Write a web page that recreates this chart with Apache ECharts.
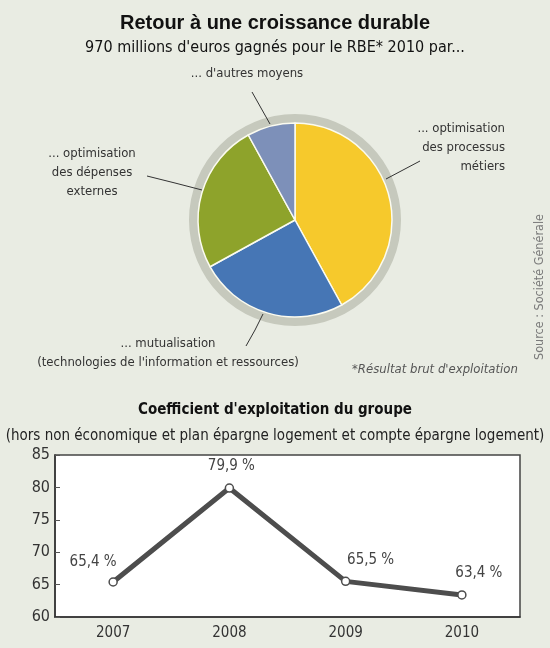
<!DOCTYPE html>
<html>
<head>
<meta charset="utf-8">
<script src="https://cdn.jsdelivr.net/npm/echarts@6/dist/echarts.min.js"></script>
<style>
html,body{margin:0;padding:0;background:#e9ece3;}
#chart{width:550px;height:648px;}
</style>
</head>
<body>
<div id="chart"></div>
<script>
// ---- data ----
const pieCategories = [
  "... optimisation\ndes processus\nmétiers",
  "... mutualisation\n(technologies de l'information et ressources)",
  "... optimisation\ndes dépenses\nexternes",
  "... d'autres moyens"
];
const pieValues = [42, 25, 25, 8];
const years = ["2007", "2008", "2009", "2010"];
const ratioValues = [65.4, 79.9, 65.5, 63.4];
const yTicks = [60, 65, 70, 75, 80, 85];

// ---- styles ----
const NARROW = "'DejaVu Sans Condensed', 'Liberation Sans Narrow', sans-serif";
const pieColors = ['#f6c92c', '#4676b5', '#8ea32b', '#7d90b9'];
const pieLabelPos = [
  {x: 505, y: 119, align: 'right', verticalAlign: 'top', labelLinePoints: [[386, 179], [403, 170], [420, 161]]},
  {x: 168, y: 334, align: 'center', verticalAlign: 'top', labelLinePoints: [[263, 314], [255, 330], [246, 346]]},
  {x: 92, y: 144, align: 'center', verticalAlign: 'top', labelLinePoints: [[202, 190], [175, 183], [147, 176]]},
  {x: 247, y: 64, align: 'center', verticalAlign: 'top', labelLinePoints: [[270, 124], [261, 108], [252, 92]]}
];
const pointLabelOffsets = [[-20, -3], [2, -5], [25, -4], [17, -5]];

const chart = echarts.init(document.getElementById('chart'), null, {renderer: 'canvas'});

const option = {
  backgroundColor: '#e9ece3',
  animation: false,
  title: [
    {text: 'Retour à une croissance durable', left: 'center', top: 8,
     textStyle: {fontFamily: "'Liberation Sans', Arial, sans-serif", fontWeight: 900, fontSize: 20, color: '#111'}},
    {text: "970 millions d'euros gagnés pour le RBE* 2010 par...", left: 'center', top: 35,
     textStyle: {fontFamily: NARROW, fontWeight: 'normal', fontSize: 16, color: '#111'}},
    {text: "*Résultat brut d'exploitation", left: 347, top: 358,
     textStyle: {fontFamily: NARROW, fontStyle: 'italic', fontWeight: 'normal', fontSize: 13, color: '#555'}},
    {text: "Coefficient d'exploitation du groupe", left: 'center', top: 398,
     textStyle: {fontFamily: NARROW, fontWeight: 'bold', fontSize: 15, color: '#111'}},
    {text: "(hors non économique et plan épargne logement et compte épargne logement)", left: 'center', top: 424,
     textStyle: {fontFamily: NARROW, fontWeight: 'normal', fontSize: 15, color: '#222'}}
  ],
  graphic: [
    {type: 'text', x: 540, y: 287, rotation: Math.PI / 2, z: 10,
     style: {text: 'Source : Société Générale', font: "12.5px 'DejaVu Sans Condensed', sans-serif",
             fill: '#7a7a7a', textAlign: 'center', textVerticalAlign: 'middle'}}
  ],
  grid: {left: 55, right: 30, top: 455, height: 162, show: true, backgroundColor: '#ffffff',
         borderColor: '#444', borderWidth: 1.5},
  xAxis: {
    type: 'category', data: years, boundaryGap: true,
    axisLine: {lineStyle: {color: '#333', width: 1.5}},
    axisTick: {inside: true, length: 5, lineStyle: {color: '#555'}},
    axisLabel: {fontFamily: NARROW, fontSize: 15, color: '#333', margin: 9}
  },
  yAxis: {
    type: 'value', min: yTicks[0], max: yTicks[yTicks.length - 1], interval: 5,
    splitLine: {show: false},
    axisLine: {show: true, lineStyle: {color: '#333', width: 1.5}},
    axisTick: {show: true, inside: true, length: 5, lineStyle: {color: '#555'}},
    axisLabel: {fontFamily: NARROW, fontSize: 16, color: '#333', margin: 5}
  },
  series: [
    {
      type: 'pie', silent: true, center: [295, 220], radius: [96, 106], startAngle: 90,
      data: [{value: 1}], label: {show: false}, labelLine: {show: false},
      itemStyle: {color: '#c6c9bd'}, z: 1
    },
    {
      type: 'pie', center: [295, 220], radius: [0, 97], startAngle: 90, clockwise: true,
      data: pieCategories.map((n, i) => ({name: n, value: pieValues[i], itemStyle: {color: pieColors[i]}})),
      itemStyle: {borderColor: '#fbfbf0', borderWidth: 1.5},
      label: {show: true, position: 'outside', formatter: '{b}', fontFamily: NARROW, fontSize: 13,
              lineHeight: 19, color: '#333', overflow: 'none', width: 400},
      labelLine: {show: true, length: 14, length2: 12, lineStyle: {color: '#333', width: 1}},
      labelLayout: function (p) { return pieLabelPos[p.dataIndex]; },
      z: 2
    },
    {
      type: 'line', data: ratioValues.map((v, i) => ({
        value: v,
        label: {offset: pointLabelOffsets[i]}
      })),
      symbol: 'circle', symbolSize: 8,
      lineStyle: {color: '#4d4d4d', width: 5},
      itemStyle: {color: '#ffffff', borderColor: '#4d4d4d', borderWidth: 1.5},
      label: {show: true, position: 'top', distance: 5, fontFamily: NARROW, fontSize: 15, color: '#444',
              formatter: p => String(p.value).replace('.', ',') + ' %'},
      z: 3
    }
  ]
};
chart.setOption(option);
</script>
</body>
</html>
